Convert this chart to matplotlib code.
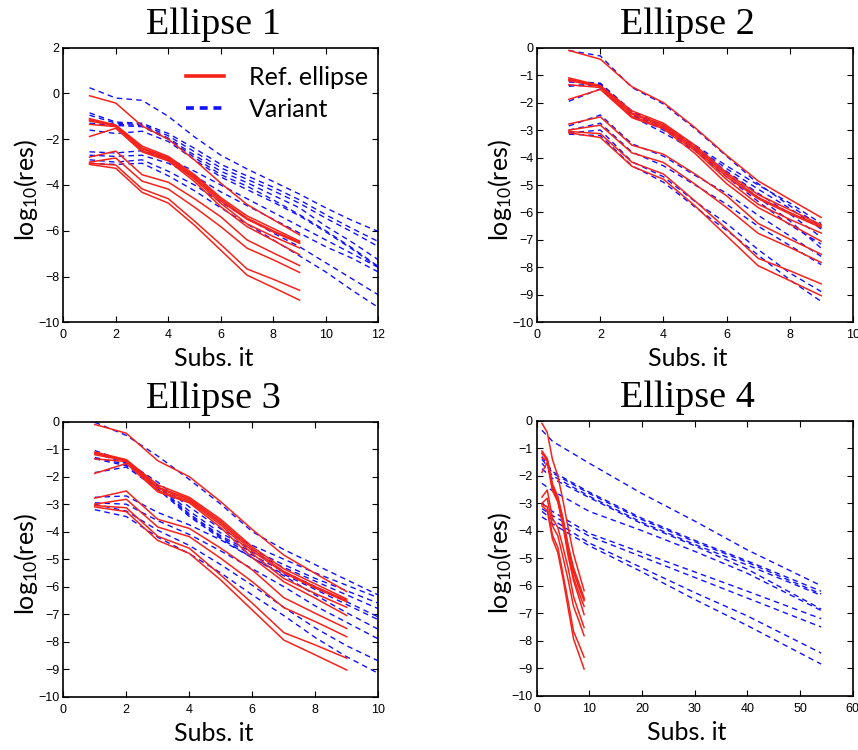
import matplotlib
matplotlib.use('Agg')
import matplotlib.pyplot as plt
from matplotlib.lines import Line2D

# ---------------- data ----------------
red_x = [1, 2, 3, 4, 5, 6, 7, 8, 9]
red_lines = [
    [-0.10, -0.42, -1.42, -2.00, -2.91, -3.92, -4.85, -5.52, -6.18],
    [-1.10, -1.38, -2.30, -2.75, -3.55, -4.55, -5.35, -5.90, -6.45],
    [-1.15, -1.40, -2.38, -2.80, -3.62, -4.62, -5.45, -6.00, -6.50],
    [-1.20, -1.42, -2.42, -2.85, -3.68, -4.70, -5.50, -6.05, -6.55],
    [-1.35, -1.45, -2.50, -2.90, -3.75, -4.80, -5.70, -6.25, -6.75],
    [-1.88, -1.52, -2.55, -2.95, -3.85, -4.95, -5.82, -6.42, -7.05],
    [-2.78, -2.52, -3.55, -3.88, -4.60, -5.39, -6.40, -6.97, -7.52],
    [-3.00, -2.82, -3.83, -4.18, -4.97, -5.82, -6.76, -7.27, -7.82],
    [-3.05, -3.13, -4.17, -4.60, -5.58, -6.60, -7.67, -8.12, -8.60],
    [-3.10, -3.27, -4.32, -4.79, -5.76, -6.85, -7.94, -8.48, -9.03],
]

e1_blue_x = [1, 2, 3, 4, 5, 6, 7, 8, 9, 10, 11, 12]
e1_blue = [
    [0.25, -0.20, -0.30, -1.00, -1.90, -2.70, -3.30, -3.85, -4.40, -5.00, -5.55, -6.03],
    [-0.85, -1.25, -1.30, -1.75, -2.40, -3.10, -3.60, -4.10, -4.65, -5.30, -5.90, -6.47],
    [-0.95, -1.30, -1.35, -1.85, -2.55, -3.25, -3.75, -4.25, -4.80, -5.45, -6.05, -6.69],
    [-1.20, -1.35, -1.40, -1.95, -2.70, -3.40, -3.90, -4.45, -5.00, -5.80, -6.50, -7.27],
    [-1.30, -1.40, -1.45, -2.00, -2.80, -3.55, -4.05, -4.65, -5.30, -6.00, -6.75, -7.56],
    [-1.60, -1.75, -1.65, -2.10, -2.90, -3.65, -4.20, -4.75, -5.35, -6.05, -6.80, -7.60],
    [-2.55, -2.60, -2.50, -2.85, -3.40, -4.00, -4.60, -5.20, -5.80, -6.40, -7.00, -7.60],
    [-2.70, -2.75, -2.70, -3.05, -3.60, -4.30, -4.90, -5.50, -6.10, -6.70, -7.20, -7.80],
    [-2.90, -3.00, -2.90, -3.40, -4.00, -4.75, -5.45, -6.10, -6.70, -7.40, -8.10, -8.80],
    [-3.05, -3.10, -3.05, -3.60, -4.25, -5.00, -5.70, -6.40, -7.10, -7.80, -8.60, -9.35],
]

e2_blue_x = [1, 2, 3, 4, 5, 6, 7, 8, 9]
e2_blue = [
    [-0.10, -0.30, -1.45, -2.05, -2.95, -3.95, -4.95, -5.75, -6.50],
    [-1.20, -1.30, -2.30, -2.85, -3.55, -4.30, -5.00, -5.65, -6.40],
    [-1.25, -1.30, -2.35, -2.90, -3.60, -4.40, -5.15, -5.85, -6.60],
    [-1.38, -1.32, -2.40, -2.95, -3.65, -4.50, -5.30, -6.05, -6.90],
    [-1.40, -1.35, -2.45, -3.00, -3.70, -4.60, -5.45, -6.30, -7.30],
    [-1.95, -1.50, -2.50, -3.10, -3.75, -4.70, -5.60, -6.45, -7.15],
    [-2.85, -2.45, -3.50, -3.95, -4.65, -5.30, -6.10, -6.85, -7.60],
    [-3.00, -2.75, -3.80, -4.30, -5.00, -5.70, -6.50, -7.20, -7.90],
    [-3.10, -3.00, -4.15, -4.70, -5.60, -6.40, -7.35, -8.20, -8.88],
    [-3.15, -3.20, -4.30, -4.90, -5.80, -6.65, -7.55, -8.45, -9.24],
]

e3_blue_x = [1, 2, 3, 4, 5, 6, 7, 8, 9, 10]
e3_blue = [
    [-0.02, -0.50, -1.25, -2.10, -3.00, -4.00, -4.65, -5.20, -5.75, -6.30],
    [-1.05, -1.45, -2.20, -3.10, -3.90, -4.50, -5.00, -5.50, -5.95, -6.40],
    [-1.15, -1.50, -2.30, -3.25, -4.05, -4.65, -5.20, -5.70, -6.15, -6.60],
    [-1.30, -1.55, -2.35, -3.35, -4.15, -4.75, -5.30, -5.80, -6.30, -6.80],
    [-1.35, -1.60, -2.40, -3.40, -4.20, -4.85, -5.45, -6.00, -6.55, -7.10],
    [-1.85, -1.65, -2.45, -3.45, -4.25, -4.95, -5.55, -6.10, -6.65, -7.20],
    [-2.75, -2.70, -3.30, -3.75, -4.30, -4.95, -5.60, -6.30, -6.95, -7.55],
    [-2.95, -3.00, -3.60, -4.10, -4.70, -5.35, -6.00, -6.70, -7.30, -7.90],
    [-3.00, -3.25, -3.95, -4.50, -5.20, -5.95, -6.75, -7.50, -8.15, -8.70],
    [-3.20, -3.45, -4.20, -4.80, -5.50, -6.30, -7.05, -7.85, -8.55, -9.15],
]

e4_blue_x = [1, 3, 10, 20, 30, 40, 54]
e4_blue = [
    [-0.35, -0.75, -1.55, -2.65, -3.65, -4.70, -6.00],
    [-1.30, -1.85, -2.60, -3.55, -4.35, -5.10, -6.20],
    [-1.40, -1.90, -2.65, -3.60, -4.40, -5.15, -6.30],
    [-1.55, -2.00, -2.75, -3.70, -4.50, -5.25, -6.35],
    [-1.75, -2.10, -2.80, -3.75, -4.55, -5.40, -6.85],
    [-2.28, -2.55, -3.30, -4.00, -4.75, -5.55, -6.90],
    [-3.00, -3.30, -4.10, -4.80, -5.50, -6.20, -7.20],
    [-3.20, -3.45, -4.20, -4.95, -5.70, -6.45, -7.50],
    [-3.30, -3.60, -4.45, -5.35, -6.25, -7.10, -8.45],
    [-3.50, -3.75, -4.55, -5.50, -6.50, -7.45, -8.85],
]

titles = ["Ellipse 1", "Ellipse 2", "Ellipse 3", "Ellipse 4"]
legend_labels = ["Ref. ellipse", "Variant"]

# ---------------- style ----------------
plt.rcParams['mathtext.fontset'] = 'custom'
plt.rcParams['mathtext.rm'] = 'Lato'
plt.rcParams['mathtext.it'] = 'Lato'
plt.rcParams['mathtext.default'] = 'regular'

RED = '#f6221a'
BLUE = '#1010ff'
W, H = 858, 750

fig = plt.figure(figsize=(W / 100, H / 100), dpi=100)


def rect(l, t, r, b):
    return [l / W, 1 - b / H, (r - l) / W, (b - t) / H]


panels = [
    dict(box=(63.3, 47.7, 378.3, 322.3), bx=e1_blue_x, blue=e1_blue,
         xlim=(0, 12), xt=range(0, 13, 2), ylim=(-10, 2), yt=range(-10, 3, 2)),
    dict(box=(537.3, 47.7, 852.7, 322.3), bx=e2_blue_x, blue=e2_blue,
         xlim=(0, 10), xt=range(0, 11, 2), ylim=(-10, 0), yt=range(-10, 1)),
    dict(box=(63.3, 421.7, 378.3, 696.7), bx=e3_blue_x, blue=e3_blue,
         xlim=(0, 10), xt=range(0, 11, 2), ylim=(-10, 0), yt=range(-10, 1)),
    dict(box=(536.7, 420.7, 852.7, 695.7), bx=e4_blue_x, blue=e4_blue,
         xlim=(0, 60), xt=range(0, 61, 10), ylim=(-10, 0), yt=range(-10, 1)),
]

for i, p in enumerate(panels):
    l, t, r, b = p['box']
    ax = fig.add_axes(rect(l, t, r, b))
    for ys in p['blue']:
        ax.plot(p['bx'], ys, color=BLUE, lw=1.0, dashes=(4, 3))
    for ys in red_lines:
        ax.plot(red_x, ys, color=RED, lw=1.1)
    ax.set_xlim(*p['xlim'])
    ax.set_ylim(*p['ylim'])
    ax.set_xticks(list(p['xt']))
    ax.set_yticks(list(p['yt']))
    ax.tick_params(direction='in', top=True, right=True, length=4, width=0.8,
                   labelsize=9)
    ax.tick_params(axis='y', pad=3)
    ax.tick_params(axis='x', pad=5)
    for lab in ax.get_xticklabels() + ax.get_yticklabels():
        lab.set_family('Liberation Sans')
    for s in ax.spines.values():
        s.set_linewidth(1.2)

    cx = l + (r - l) * 0.476
    fig.text(cx / W, 1 - (t - 14) / H, titles[i], family='Liberation Serif',
             fontsize=27.5, ha='center', va='baseline')
    fig.text(cx / W, 1 - (b + 44) / H, 'Subs. it', family='Lato',
             fontsize=18, ha='center', va='baseline')
    fig.text((l - 37) / W, 1 - ((t + b) / 2 + 5) / H, 'log$_{10}$(res)',
             family='Lato', fontsize=18, rotation=90, ha='center', va='center')

    if i == 0:
        handles = [Line2D([], [], color=RED, lw=2.6),
                   Line2D([], [], color=BLUE, lw=2.6, dashes=(2.2, 1.6))]
        ax.legend(handles, legend_labels, loc='upper left',
                  bbox_to_anchor=(0.39, 0.935), frameon=False,
                  prop={'family': 'Lato', 'size': 18}, handlelength=1.5,
                  handletextpad=1.0, labelspacing=0.38, borderpad=0,
                  borderaxespad=0)

fig.savefig('out.png', dpi=100)
